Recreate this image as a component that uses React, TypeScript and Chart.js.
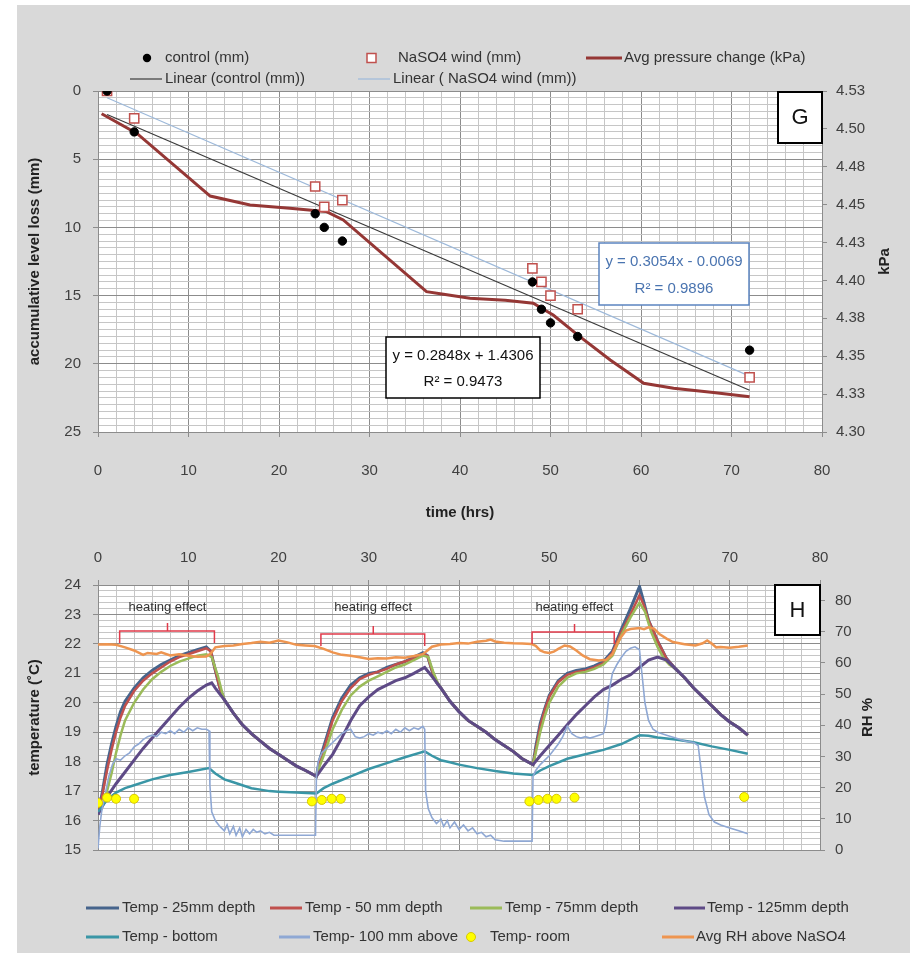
import React, { useEffect, useRef } from 'react';
import { Chart, registerables } from 'chart.js';
Chart.register(...registerables);

const FONT = "'Liberation Sans', Arial, sans-serif";

type Pt = [number, number];

// ---------- Panel G data ----------
const controlTimes = [1, 4, 24, 25, 27, 48, 49, 50, 53, 72];
const controlLoss = [0, 3, 9, 10, 11, 14, 16, 17, 18, 19];
const nasoTimes = [1, 4, 24, 25, 27, 48, 49, 50, 53, 72];
const nasoLoss = [0, 2, 7, 8.5, 8, 13, 14, 15, 16, 21];
const pressureTimes = [0.4, 4.3, 12.4, 16.8, 21.2, 24.2, 25.2, 27.1, 36.3, 38, 41.1, 45, 48.1, 49.2, 50.3, 53.1, 56.6, 60.3, 63.6, 68, 72];
const pressureKpa = [4.510, 4.497, 4.4557, 4.4498, 4.4476, 4.446, 4.4455, 4.4399, 4.3926, 4.391, 4.3882, 4.387, 4.385, 4.381, 4.3772, 4.3636, 4.3475, 4.3321, 4.3288, 4.326, 4.3233];
const trendControlTimes = [1, 72];
const trendControlLoss = [1.72, 21.94];
const trendNasoTimes = [1, 72];
const trendNasoLoss = [0.5, 20.9];
const eqControl = ['y = 0.2848x + 1.4306', 'R² = 0.9473'];
const eqNaso = ['y = 0.3054x - 0.0069', 'R² = 0.9896'];

const hourTicks = [0, 10, 20, 30, 40, 50, 60, 70, 80];
const lossTicks = [0, 5, 10, 15, 20, 25];
const kpaTickLabels = ['4.30', '4.33', '4.35', '4.38', '4.40', '4.43', '4.45', '4.48', '4.50', '4.53'];

// ---------- Panel H data ----------
const cool1: Pt[] = [[14, 20.1], [15, 19.65], [16, 19.25], [17, 18.95], [18, 18.7], [19, 18.45], [20, 18.25], [21, 18.05], [22, 17.85], [23, 17.7], [24.2, 17.5]];
const cool2: Pt[] = [[38, 20.5], [39, 20.05], [40, 19.7], [41, 19.4], [42, 19.2], [43, 19.0], [44, 18.75], [45, 18.55], [46, 18.35], [47, 18.1], [48.2, 17.9]];
const cool3: Pt[] = [[64, 21.15], [65, 20.85], [66, 20.5], [67, 20.2], [68, 19.9], [69, 19.6], [70, 19.35], [71, 19.15], [72, 18.9]];

const depth25: Pt[] = [
  [0, 16.2], [0.5, 17.0], [1, 17.9], [1.5, 18.6], [2, 19.2], [2.5, 19.7], [3, 20.05], [4, 20.5], [5, 20.85], [6, 21.1], [7, 21.3], [8, 21.45], [9, 21.6], [10, 21.7], [11, 21.8], [12, 21.9], [12.5, 21.75], [13, 21.1], [13.5, 20.5],
  ...cool1,
  [24.5, 18.0], [25, 18.5], [25.5, 19.0], [26, 19.5], [27, 20.15], [28, 20.6], [29, 20.85], [30, 21.0], [31, 21.05], [32, 21.2], [33, 21.3], [34, 21.4], [35, 21.55], [36, 21.7], [36.5, 21.6], [37, 21.1], [37.5, 20.7],
  ...cool2,
  [48.5, 18.5], [49, 19.3], [49.5, 19.8], [50, 20.25], [51, 20.75], [52, 21.0], [53, 21.1], [54, 21.15], [55, 21.25], [56, 21.4], [57, 21.75], [58, 22.5], [59, 23.2], [60, 23.95], [60.5, 23.4], [61, 22.8], [62, 22.1], [63, 21.5],
  ...cool3,
];
const depth50: Pt[] = [
  [0, 16.2], [0.5, 16.9], [1, 17.7], [1.5, 18.4], [2, 19.0], [2.5, 19.5], [3, 19.9], [4, 20.4], [5, 20.75], [6, 21.0], [7, 21.2], [8, 21.4], [9, 21.55], [10, 21.65], [11, 21.75], [12, 21.85], [12.5, 21.75], [13, 21.1], [13.5, 20.5],
  ...cool1,
  [24.5, 17.9], [25, 18.4], [25.5, 18.9], [26, 19.4], [27, 20.05], [28, 20.5], [29, 20.8], [30, 20.95], [31, 21.05], [32, 21.15], [33, 21.3], [34, 21.4], [35, 21.5], [36, 21.65], [36.5, 21.6], [37, 21.1], [37.5, 20.7],
  ...cool2,
  [48.5, 18.4], [49, 19.2], [49.5, 19.75], [50, 20.2], [51, 20.7], [52, 20.95], [53, 21.05], [54, 21.1], [55, 21.2], [56, 21.35], [57, 21.7], [58, 22.4], [59, 23.0], [60, 23.65], [60.5, 23.3], [61, 22.8], [62, 22.1], [63, 21.5],
  ...cool3,
];
const depth75: Pt[] = [
  [0, 16.2], [0.5, 16.5], [1, 17.0], [1.5, 17.6], [2, 18.3], [2.5, 18.9], [3, 19.4], [4, 20.0], [5, 20.45], [6, 20.8], [7, 21.05], [8, 21.25], [9, 21.4], [10, 21.5], [11, 21.6], [12, 21.65], [12.6, 21.55], [13.3, 20.9], [13.8, 20.3],
  ...cool1,
  [24.5, 17.8], [25, 18.2], [25.5, 18.65], [26, 19.1], [27, 19.75], [28, 20.25], [29, 20.55], [30, 20.75], [31, 20.9], [32, 21.05], [33, 21.2], [34, 21.3], [35, 21.45], [36, 21.6], [36.6, 21.55], [37.2, 21.0], [37.7, 20.65],
  ...cool2,
  [48.5, 18.3], [49, 19.0], [49.5, 19.55], [50, 20.0], [51, 20.55], [52, 20.85], [53, 21.0], [54, 21.05], [55, 21.15], [56, 21.3], [57, 21.6], [58, 22.3], [59, 22.9], [60, 23.4], [60.6, 23.1], [61.3, 22.4], [62, 21.9], [62.7, 21.5], [63.3, 21.3],
  ...cool3,
];
const depth125: Pt[] = [
  [0, 16.2], [1, 16.8], [2, 17.25], [3, 17.65], [4, 18.05], [5, 18.45], [6, 18.8], [7, 19.15], [8, 19.5], [9, 19.85], [10, 20.15], [11, 20.4], [12, 20.6], [12.6, 20.68], [13, 20.5],
  ...cool1,
  [25, 17.85], [26, 18.25], [27, 18.8], [28, 19.4], [29, 19.9], [30, 20.2], [31, 20.45], [32, 20.6], [33, 20.75], [34, 20.85], [35, 21.0], [36.2, 21.2], [37, 20.9],
  ...cool2,
  [49, 18.2], [50, 18.55], [51, 18.9], [52, 19.25], [53, 19.6], [54, 19.9], [55, 20.2], [56, 20.45], [57, 20.6], [58, 20.8], [59, 20.95], [60, 21.2], [61, 21.45], [62, 21.55], [63, 21.45],
  ...cool3,
];
const bottomTemp: Pt[] = [
  [0, 16.3], [1, 16.7], [2, 16.95], [3, 17.1], [4, 17.2], [6, 17.4], [8, 17.55], [10, 17.65], [12.3, 17.78], [13, 17.6], [14, 17.4], [15, 17.3], [16, 17.2], [17, 17.1], [18, 17.05], [19, 17.0], [20, 16.98], [22, 16.95], [24.2, 16.92],
  [25, 17.1], [26, 17.25], [28, 17.5], [30, 17.75], [32, 17.95], [34, 18.15], [36.2, 18.35], [37, 18.2], [38, 18.05], [39, 17.98], [40, 17.9], [42, 17.78], [44, 17.68], [46, 17.6], [48.2, 17.55],
  [49, 17.7], [50, 17.85], [52, 18.1], [54, 18.25], [56, 18.4], [58, 18.6], [60, 18.9], [61, 18.88], [62, 18.82], [64, 18.75], [66, 18.66], [68, 18.52], [70, 18.4], [72, 18.27],
];
const above100: Pt[] = [
  [0, 15.05], [0.2, 15.8], [0.4, 16.3], [0.8, 16.9], [1.2, 17.5], [1.6, 17.9], [2, 18.1], [2.5, 18.05], [3, 18.2], [3.5, 18.3], [4, 18.5], [4.5, 18.6], [5, 18.75], [5.5, 18.85], [6, 18.9], [6.5, 18.85], [7, 19.0], [7.5, 18.95], [8, 19.05], [8.5, 18.95], [9, 19.1], [9.5, 19.0], [10, 19.15], [10.5, 19.05], [11, 19.15], [11.5, 19.1], [12, 19.1], [12.3, 19.05],
  [12.4, 17.2], [12.6, 16.3], [13, 16.0], [13.5, 15.8], [14, 15.65], [14.3, 15.85], [14.6, 15.55], [15, 15.8], [15.3, 15.5], [15.7, 15.75], [16, 15.45], [16.4, 15.7], [16.8, 15.55], [17.2, 15.7], [17.6, 15.6], [18, 15.65], [18.5, 15.55], [19, 15.6], [19.5, 15.5], [20, 15.5], [21, 15.5], [22, 15.5], [23, 15.5], [24.1, 15.5],
  [24.2, 17.5], [24.4, 18.0], [24.8, 18.3], [25.5, 18.5], [26, 18.65], [26.5, 18.8], [27, 18.95], [27.5, 19.05], [28, 19.1], [28.5, 18.85], [29, 18.8], [29.5, 18.85], [30, 18.95], [30.5, 18.9], [31, 19.0], [31.5, 18.95], [32, 19.05], [32.5, 18.95], [33, 19.1], [33.5, 19.0], [34, 19.15], [34.5, 19.05], [35, 19.15], [35.5, 19.1], [36, 19.2], [36.2, 19.1],
  [36.3, 17.0], [36.6, 16.4], [37, 16.1], [37.5, 15.9], [38, 16.05], [38.3, 15.8], [38.7, 16.0], [39, 15.75], [39.5, 15.95], [40, 15.7], [40.5, 15.85], [41, 15.65], [41.5, 15.75], [42, 15.55], [42.5, 15.6], [43, 15.45], [43.5, 15.5], [44, 15.35], [45, 15.3], [46, 15.3], [47, 15.3], [48.1, 15.3],
  [48.2, 17.5], [48.5, 17.7], [49, 17.9], [49.5, 18.05], [50, 18.2], [50.5, 18.4], [51, 18.6], [51.5, 18.85], [52, 19.2], [52.5, 18.95], [53, 18.85], [53.5, 18.8], [54, 18.85], [54.5, 18.8], [55, 18.85], [55.5, 18.9], [56, 18.95], [56.3, 19.3], [56.7, 20.5], [57, 21.0], [57.5, 21.3], [58, 21.55], [58.5, 21.75], [59, 21.85], [59.5, 21.9], [60, 21.8],
  [60.3, 20.9], [60.6, 20.0], [61, 19.4], [61.5, 19.1], [62, 19.0], [63, 18.9], [64, 18.8], [65, 18.7], [66, 18.65], [66.5, 18.55], [66.8, 17.8], [67.2, 16.8], [67.7, 16.2], [68.3, 15.95], [69, 15.85], [70, 15.75], [71, 15.65], [72, 15.55],
];
const roomTimes = [0, 1, 2, 4, 23.7, 24.8, 25.9, 26.9, 47.8, 48.8, 49.8, 50.8, 52.8, 71.6];
const roomTemps = [16.6, 16.78, 16.74, 16.74, 16.65, 16.7, 16.74, 16.74, 16.65, 16.7, 16.74, 16.74, 16.78, 16.8];
const rhAbove: Pt[] = [
  [0, 65.9], [1, 66], [2, 65.8], [3, 65], [4, 64], [5, 62.6], [5.5, 63.2], [6.5, 62.9], [7, 63.4], [8, 62.4], [9, 62.8], [10, 62.3], [11, 62], [12, 62.1], [12.5, 63], [13, 65], [14, 65.4], [15, 65.6], [16, 66.1], [17, 66.4], [18, 66.8], [19, 66.5], [20, 67.2], [21, 66.6], [22, 65.8], [23, 65.6], [24, 65.4],
  [25, 64.5], [26, 63.4], [27, 62.6], [28, 62.3], [29, 61.8], [30, 61.3], [31, 61.5], [32, 61.4], [33, 61.8], [34, 61.7], [35, 62.2], [36, 62.8], [36.5, 64], [37, 65.2], [38, 65.9], [39, 66.1], [40, 66.4], [41, 66.2], [42, 66.8], [43, 67.1], [43.5, 67.5], [44, 66.9], [45, 66.5], [46, 66.3], [47, 66.2], [48, 66.1],
  [48.5, 65.5], [49, 64], [49.5, 63.4], [50, 63.2], [50.5, 63.6], [51, 64.5], [51.7, 65.6], [52.3, 65.3], [53, 64], [53.7, 62.4], [54.5, 61.2], [55.5, 60.8], [56.3, 61], [57, 62.8], [57.5, 66], [58, 68.5], [58.5, 70.4], [59, 70.9], [60, 71.2], [60.5, 70.8], [61, 71.4], [61.6, 71], [62.2, 69.3], [63, 67.8], [63.7, 66.7], [65, 66], [66.2, 65.6], [67, 66.3], [67.5, 67.2], [68, 66.2], [68.5, 65], [69, 65.1], [70, 64.9], [71, 65.2], [72, 65.6],
];
const heatStart = [2.4, 24.7, 48.1];
const heatEnd = [12.9, 36.2, 57.2];
const heatMid = [7.7, 30.5, 52.8];
const heatLabel = 'heating effect';
const tempTicks = [15, 16, 17, 18, 19, 20, 21, 22, 23, 24];
const rhTicks = [0, 10, 20, 30, 40, 50, 60, 70, 80];

// ---------- helpers ----------
const toXY = (pts: Pt[]) => pts.map(([x, y]) => ({ x, y }));
const zipXY = (xs: number[], ys: number[]) => xs.map((x, i) => ({ x, y: ys[i] }));
const near = (v: number, list: number[]) => list.some((t) => Math.abs(t - v) < 1e-6);

const MINOR = '#c6c6c6';
const MAJOR = '#8c8c8c';
const TICKCOL = '#404040';

function gridOpts(majors: number[]) {
  return {
    color: (c: any) => (c.tick && near(c.tick.value, majors) ? MAJOR : MINOR),
    tickColor: (c: any) => (c.tick && near(c.tick.value, majors) ? MAJOR : 'rgba(0,0,0,0)'),
    tickLength: 5,
    lineWidth: 1,
  };
}

function text(ctx: CanvasRenderingContext2D, s: string, x: number, y: number, font: string, color: string, align: CanvasTextAlign = 'left') {
  ctx.save();
  ctx.font = font;
  ctx.fillStyle = color;
  ctx.textAlign = align;
  ctx.textBaseline = 'middle';
  ctx.fillText(s, x, y);
  ctx.restore();
}
function hline(ctx: CanvasRenderingContext2D, x1: number, x2: number, y: number, color: string, w: number) {
  ctx.save();
  ctx.strokeStyle = color;
  ctx.lineWidth = w;
  ctx.beginPath();
  ctx.moveTo(x1, y);
  ctx.lineTo(x2, y);
  ctx.stroke();
  ctx.restore();
}
function box(ctx: CanvasRenderingContext2D, x: number, y: number, w: number, h: number, color: string, lw: number) {
  ctx.save();
  ctx.fillStyle = '#ffffff';
  ctx.fillRect(x, y, w, h);
  ctx.strokeStyle = color;
  ctx.lineWidth = lw;
  ctx.strokeRect(x, y, w, h);
  ctx.restore();
}
function vtext(ctx: CanvasRenderingContext2D, s: string, x: number, y: number, font: string, color: string) {
  ctx.save();
  ctx.translate(x, y);
  ctx.rotate(-Math.PI / 2);
  ctx.font = font;
  ctx.fillStyle = color;
  ctx.textAlign = 'center';
  ctx.textBaseline = 'middle';
  ctx.fillText(s, 0, 0);
  ctx.restore();
}

const LEG = `15px ${FONT}`;
const LEGCOL = '#333333';
const TICKFONT = { family: FONT, size: 15 };
const TITLEFONT = { family: FONT, size: 15, weight: 'bold' as const };

const whitePlot = {
  id: 'whitePlot',
  beforeDraw(chart: any) {
    const { ctx, chartArea: a } = chart;
    ctx.save();
    ctx.fillStyle = '#ffffff';
    ctx.fillRect(a.left, a.top, a.right - a.left, a.bottom - a.top);
    ctx.restore();
  },
};

const topDecor = {
  id: 'topDecor',
  afterDatasetsDraw(chart: any) {
    const { ctx, chartArea: a } = chart;
    box(ctx, a.right - 44, a.top + 1, 44, 51, '#000', 2);
    text(ctx, 'G', a.right - 22, a.top + 27, `22px ${FONT}`, '#111', 'center');
    box(ctx, a.left + 288, a.top + 246, 154, 61, '#000', 1.5);
    text(ctx, eqControl[0], a.left + 365, a.top + 265, `15px ${FONT}`, '#111', 'center');
    text(ctx, eqControl[1], a.left + 365, a.top + 291, `15px ${FONT}`, '#111', 'center');
    box(ctx, a.left + 501, a.top + 152, 150, 62, '#5b84c0', 1.5);
    text(ctx, eqNaso[0], a.left + 576, a.top + 171, `15px ${FONT}`, '#4a74b0', 'center');
    text(ctx, eqNaso[1], a.left + 576, a.top + 198, `15px ${FONT}`, '#4a74b0', 'center');
  },
  afterDraw(chart: any) {
    const { ctx, chartArea: a } = chart;
    vtext(ctx, 'kPa', a.right + 63, (a.top + a.bottom) / 2, `bold 15px ${FONT}`, '#222');
    const y1 = 53;
    ctx.save();
    ctx.fillStyle = '#000';
    ctx.beginPath();
    ctx.arc(130, y1, 4.2, 0, Math.PI * 2);
    ctx.fill();
    ctx.restore();
    text(ctx, 'control (mm)', 148, y1, LEG, LEGCOL);
    box(ctx, 350, y1 - 4.5, 9, 9, '#C0504D', 1.5);
    text(ctx, 'NaSO4 wind (mm)', 381, y1, LEG, LEGCOL);
    hline(ctx, 569, 605, y1, '#953735', 3);
    text(ctx, 'Avg pressure change (kPa)', 607, y1, LEG, LEGCOL);
    const y2 = 74;
    hline(ctx, 113, 145, y2, '#3a3a3a', 1.2);
    text(ctx, 'Linear (control (mm))', 148, y2, LEG, LEGCOL);
    hline(ctx, 341, 373, y2, '#9DB9DA', 1.2);
    text(ctx, 'Linear ( NaSO4 wind (mm))', 376, y2, LEG, LEGCOL);
  },
};

const bottomDecor = {
  id: 'bottomDecor',
  afterDatasetsDraw(chart: any) {
    const { ctx, chartArea: a, scales } = chart;
    const xs = scales.x;
    for (let i = 0; i < heatStart.length; i++) {
      const x1 = xs.getPixelForValue(heatStart[i]);
      const x2 = xs.getPixelForValue(heatEnd[i]);
      const xm = xs.getPixelForValue(heatMid[i]);
      const yb = a.top + 46 + (i === 1 ? 3 : i === 2 ? 1 : 0);
      ctx.save();
      ctx.strokeStyle = '#e03a4a';
      ctx.lineWidth = 1.5;
      ctx.beginPath();
      ctx.moveTo(x1, yb + 12);
      ctx.lineTo(x1, yb);
      ctx.lineTo(x2, yb);
      ctx.lineTo(x2, yb + 12);
      ctx.moveTo(xm, yb);
      ctx.lineTo(xm, yb - 8);
      ctx.stroke();
      ctx.restore();
      text(ctx, heatLabel, xm, a.top + 22, `13px ${FONT}`, '#333', 'center');
    }
    box(ctx, a.right - 45, a.top, 45, 50, '#000', 2);
    text(ctx, 'H', a.right - 22.5, a.top + 26, `22px ${FONT}`, '#111', 'center');
  },
  afterDraw(chart: any) {
    const { ctx, chartArea: a } = chart;
    vtext(ctx, 'RH %', a.right + 48, (a.top + a.bottom) / 2, `bold 15px ${FONT}`, '#222');
    const r1 = 373;
    const r2 = 402;
    hline(ctx, 69, 102, r1, '#46648C', 3);
    text(ctx, 'Temp - 25mm depth', 105, r1, LEG, LEGCOL);
    hline(ctx, 253, 285, r1, '#C0504D', 3);
    text(ctx, 'Temp - 50 mm depth', 288, r1, LEG, LEGCOL);
    hline(ctx, 453, 485, r1, '#9BBB59', 3);
    text(ctx, 'Temp - 75mm depth', 488, r1, LEG, LEGCOL);
    hline(ctx, 657, 688, r1, '#5E4A86', 3);
    text(ctx, 'Temp - 125mm depth', 690, r1, LEG, LEGCOL);
    hline(ctx, 69, 102, r2, '#3A96A6', 3);
    text(ctx, 'Temp - bottom', 105, r2, LEG, LEGCOL);
    hline(ctx, 262, 293, r2, '#8FA8D4', 3);
    text(ctx, 'Temp- 100 mm above', 296, r2, LEG, LEGCOL);
    ctx.save();
    ctx.fillStyle = '#FFFF00';
    ctx.strokeStyle = '#d8c800';
    ctx.lineWidth = 1;
    ctx.beginPath();
    ctx.arc(454, r2, 4.5, 0, Math.PI * 2);
    ctx.fill();
    ctx.stroke();
    ctx.restore();
    text(ctx, 'Temp- room', 473, r2, LEG, LEGCOL);
    hline(ctx, 645, 677, r2, '#EE9550', 3);
    text(ctx, 'Avg RH above NaSO4', 679, r2, LEG, LEGCOL);
  },
};

function lineDs(label: string, pts: { x: number; y: number }[], color: string, width: number, axis = 'y') {
  return { label, data: pts, yAxisID: axis, showLine: true, borderColor: color, backgroundColor: color, borderWidth: width, pointRadius: 0, pointHoverRadius: 0, tension: 0, fill: false };
}

export default function App() {
  const topRef = useRef<HTMLCanvasElement>(null);
  const botRef = useRef<HTMLCanvasElement>(null);

  useEffect(() => {
    const top = new Chart(topRef.current as HTMLCanvasElement, {
      type: 'scatter',
      data: {
        datasets: [
          { label: 'control (mm)', data: zipXY(controlTimes, controlLoss), yAxisID: 'y', showLine: false, pointStyle: 'circle', pointRadius: 4.2, pointBackgroundColor: '#000', pointBorderColor: '#000', pointBorderWidth: 1 },
          { label: 'NaSO4 wind (mm)', data: zipXY(nasoTimes, nasoLoss), yAxisID: 'y', showLine: false, pointStyle: 'rect', pointRadius: 6.5, pointBackgroundColor: '#fff', pointBorderColor: '#C0504D', pointBorderWidth: 1.5 },
          lineDs('Linear (control (mm))', zipXY(trendControlTimes, trendControlLoss), '#3a3a3a', 1.2),
          lineDs('Linear ( NaSO4 wind (mm))', zipXY(trendNasoTimes, trendNasoLoss), '#9DB9DA', 1.2),
          lineDs('Avg pressure change (kPa)', zipXY(pressureTimes, pressureKpa), '#953735', 3, 'y1'),
        ],
      } as any,
      options: {
        animation: false,
        responsive: false,
        devicePixelRatio: 1,
        layout: { padding: { top: 86, left: 0, right: 0, bottom: 0 } },
        plugins: { legend: { display: false }, tooltip: { enabled: false } },
        scales: {
          x: {
            type: 'linear', min: 0, max: 80,
            ticks: { stepSize: 2, autoSkip: false, maxRotation: 0, padding: 25, font: TICKFONT, color: TICKCOL, callback: (v: any) => (near(v, hourTicks) ? String(v) : '') },
            grid: gridOpts(hourTicks),
            border: { color: MAJOR },
            title: { display: true, text: 'time (hrs)', font: TITLEFONT, color: '#222', padding: { top: 0, bottom: 13 } },
            afterFit: (s: any) => { s.height = 103; },
          },
          y: {
            type: 'linear', position: 'left', reverse: true, min: 0, max: 25,
            ticks: { stepSize: 0.5, autoSkip: false, padding: 12, font: TICKFONT, color: TICKCOL, callback: (v: any) => (near(v, lossTicks) ? String(v) : '') },
            grid: gridOpts(lossTicks),
            border: { color: MAJOR },
            title: { display: true, text: 'accumulative level loss (mm)', font: TITLEFONT, color: '#222', padding: { top: 9, bottom: 0 } },
            afterFit: (s: any) => { s.width = 81; },
          },
          y1: {
            type: 'linear', position: 'right', min: 4.3, max: 4.525,
            ticks: { stepSize: 0.025, autoSkip: false, padding: 9, font: TICKFONT, color: TICKCOL, callback: (_v: any, i: number) => kpaTickLabels[i] ?? '' },
            grid: { drawOnChartArea: false, tickLength: 5, color: MAJOR },
            border: { color: MAJOR },
            afterFit: (s: any) => { s.width = 88; },
          },
        },
      } as any,
      plugins: [whitePlot, topDecor],
    });

    const bot = new Chart(botRef.current as HTMLCanvasElement, {
      type: 'scatter',
      data: {
        datasets: [
          lineDs('Avg RH above NaSO4', toXY(rhAbove), '#EE9550', 2.5, 'y1'),
          { label: 'Temp- room', data: zipXY(roomTimes, roomTemps), yAxisID: 'y', showLine: false, pointStyle: 'circle', pointRadius: 4.5, pointBackgroundColor: '#FFFF00', pointBorderColor: '#d8c800', pointBorderWidth: 1 },
          lineDs('Temp- 100 mm above', toXY(above100), '#8FA8D4', 1.6),
          lineDs('Temp - bottom', toXY(bottomTemp), '#3A96A6', 2.5),
          lineDs('Temp - 125mm depth', toXY(depth125), '#5E4A86', 3),
          lineDs('Temp - 75mm depth', toXY(depth75), '#9BBB59', 2.5),
          lineDs('Temp - 50 mm depth', toXY(depth50), '#C0504D', 2.5),
          lineDs('Temp - 25mm depth', toXY(depth25), '#46648C', 3),
        ],
      } as any,
      options: {
        animation: false,
        responsive: false,
        devicePixelRatio: 1,
        layout: { padding: { top: 0, left: 0, right: 0, bottom: 103 } },
        plugins: { legend: { display: false }, tooltip: { enabled: false } },
        scales: {
          x: {
            type: 'linear', position: 'top', min: 0, max: 80,
            ticks: { stepSize: 2, autoSkip: false, maxRotation: 0, padding: 13, font: TICKFONT, color: TICKCOL, callback: (v: any) => (near(v, hourTicks) ? String(v) : '') },
            grid: gridOpts(hourTicks),
            border: { color: MAJOR },
            afterFit: (s: any) => { s.height = 50; },
          },
          y: {
            type: 'linear', position: 'left', min: 15, max: 24,
            ticks: { stepSize: 0.2, autoSkip: false, padding: 12, font: TICKFONT, color: TICKCOL, callback: (v: any) => (near(v, tempTicks) ? String(Math.round(v)) : '') },
            grid: gridOpts(tempTicks),
            border: { color: MAJOR },
            title: { display: true, text: 'temperature (˚C)', font: TITLEFONT, color: '#222', padding: { top: 9, bottom: 0 } },
            afterFit: (s: any) => { s.width = 81; },
          },
          y1: {
            type: 'linear', position: 'right', min: 0, max: 85,
            ticks: { stepSize: 10, includeBounds: false, autoSkip: false, padding: 10, font: TICKFONT, color: TICKCOL, callback: (v: any) => (near(v, rhTicks) ? String(v) : '') },
            grid: { drawOnChartArea: false, tickLength: 5, color: MAJOR },
            border: { color: MAJOR },
            afterFit: (s: any) => { s.width = 90; },
          },
        },
      } as any,
      plugins: [whitePlot, bottomDecor],
    });

    return () => {
      top.destroy();
      bot.destroy();
    };
  }, []);

  return (
    <div style={{ position: 'absolute', left: 17, top: 5, width: 893, height: 948, background: '#d9d9d9' }}>
      <canvas ref={topRef} width={893} height={530} style={{ display: 'block', width: 893, height: 530 }} />
      <canvas ref={botRef} width={893} height={418} style={{ display: 'block', width: 893, height: 418 }} />
    </div>
  );
}
